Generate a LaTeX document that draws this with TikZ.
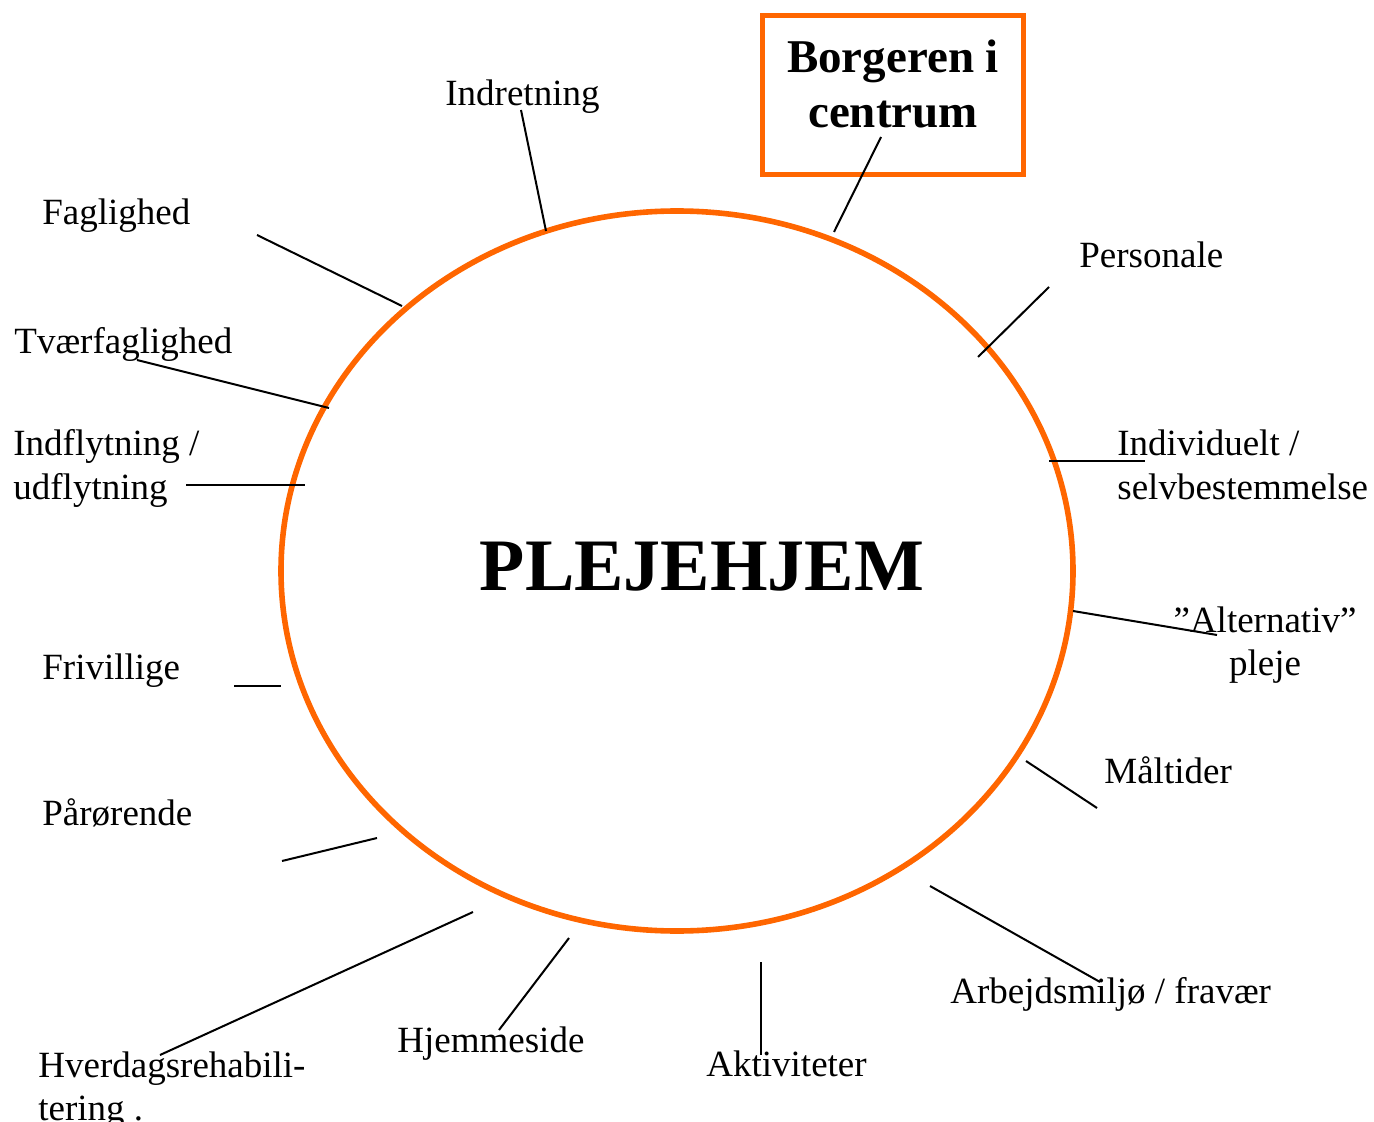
\documentclass[tikz,border=0pt]{standalone}
\usepackage{fontspec}
\setmainfont{Liberation Serif}
\definecolor{ringorange}{HTML}{FF6600}
\tikzset{
  lbl/.style={inner sep=0pt, anchor=base west, align=left, font=\fontsize{18.5pt}{21.5pt}\selectfont},
  tick/.style={draw=black, line width=1pt},
  ring/.style={draw=ringorange, line width=2.8pt},
}
\begin{document}
\begin{tikzpicture}[x=0.5pt,y=-0.5pt]
\useasboundingbox (0,0) rectangle (1374,1122);
% main ellipse
\draw[ring] (677,571) ellipse [x radius=198pt, y radius=180pt];
\node[inner sep=0pt, anchor=base, font=\fontsize{37pt}{40pt}\selectfont\bfseries] (center) at (702,590) {PLEJEHJEM};
% box
\node[draw=ringorange, line width=2.8pt, minimum width=130.5pt, minimum height=79.5pt, align=center, inner sep=0pt,
      font=\fontsize{23.5pt}{27.5pt}\selectfont\bfseries] (borger) at (893,95) {Borgeren i\\centrum\\[-16.5pt]};
% labels
\node[lbl] (indretning) at (445,106) {Indretning};
\node[lbl] (faglighed) at (42,225) {Faglighed};
\node[lbl] (tvaer) at (14,354) {Tværfaglighed};
\node[lbl] (indflyt) at (13,499) {Indflytning /\\udflytning};
\node[lbl] (frivillige) at (42,679) {Frivillige};
\node[lbl] (paaroer) at (42,825) {Pårørende};
\node[lbl] (hverdag) at (38,1120) {Hverdagsrehabili-\\tering .};
\node[lbl] (hjemme) at (397,1052) {Hjemmeside};
\node[lbl] (aktiv) at (706,1076) {Aktiviteter};
\node[lbl] (arbejd) at (950,1003) {Arbejdsmiljø / fravær};
\node[lbl] (maaltid) at (1104,783) {Måltider};
\node[lbl, anchor=base, align=center] (altern) at (1265,675) {”Alternativ”\\pleje};
\node[lbl] (individ) at (1117,499) {Individuelt /\\selvbestemmelse};
\node[lbl] (personale) at (1079,268) {Personale};
% tick coordinates
\coordinate (a1) at (521,110);  \coordinate (a2) at (546,231);
\coordinate (b1) at (881,137);  \coordinate (b2) at (834,232);
\coordinate (c1) at (1049,287); \coordinate (c2) at (978,357);
\coordinate (d1) at (1049,461); \coordinate (d2) at (1145,461);
\coordinate (e1) at (1073,611); \coordinate (e2) at (1217,635);
\coordinate (f1) at (1026,761); \coordinate (f2) at (1097,808);
\coordinate (g1) at (930,886);  \coordinate (g2) at (1100,982);
\coordinate (h1) at (761,962);  \coordinate (h2) at (761,1055);
\coordinate (i1) at (569,938);  \coordinate (i2) at (499,1030);
\coordinate (j1) at (473,912);  \coordinate (j2) at (160,1055);
\coordinate (k1) at (377,838);  \coordinate (k2) at (282,861);
\coordinate (l1) at (234,686);  \coordinate (l2) at (281,686);
\coordinate (m1) at (186,485);  \coordinate (m2) at (305,485);
\coordinate (n1) at (137,360);  \coordinate (n2) at (329,408);
\coordinate (o1) at (257,235);  \coordinate (o2) at (402,306);
\foreach \p in {a,b,c,d,e,f,g,h,i,j,k,l,m,n,o} \draw[tick] (\p1) -- (\p2);
\end{tikzpicture}
\end{document}
